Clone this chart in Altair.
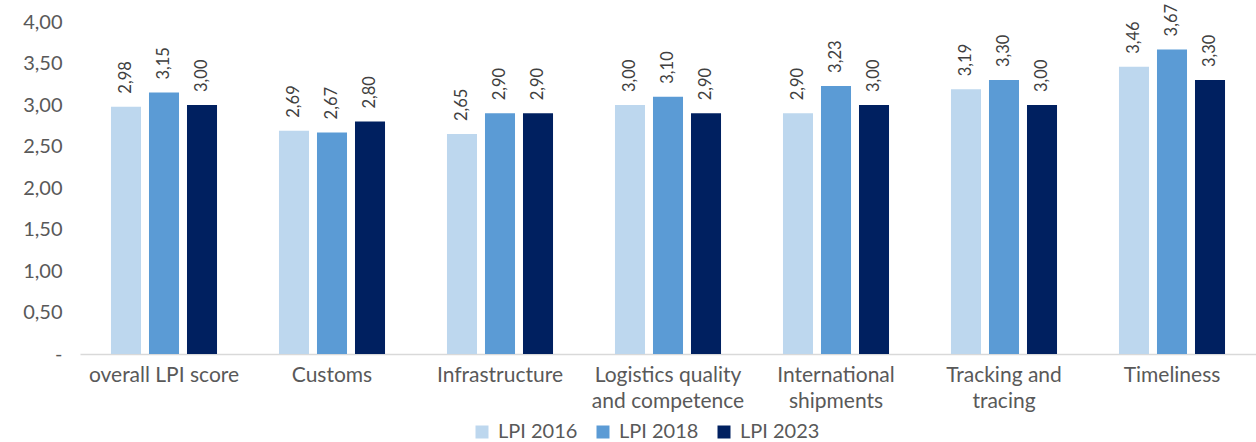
import altair as alt
import pandas as pd

categories = ["overall LPI score", "Customs", "Infrastructure",
              "Logistics quality\nand competence", "International\nshipments",
              "Tracking and\ntracing", "Timeliness"]
series = ["LPI 2016", "LPI 2018", "LPI 2023"]
lpi_2016 = [2.98, 2.69, 2.65, 3.00, 2.90, 3.19, 3.46]
lpi_2018 = [3.15, 2.67, 2.90, 3.10, 3.23, 3.30, 3.67]
lpi_2023 = [3.00, 2.80, 2.90, 2.90, 3.00, 3.00, 3.30]
colors = ["#BDD7EE", "#5B9BD5", "#002060"]

rows = []
for s, vals in zip(series, [lpi_2016, lpi_2018, lpi_2023]):
    for c, v in zip(categories, vals):
        rows.append({"category": c, "series": s, "value": v})
df = pd.DataFrame(rows)

FONT = "Lato"
GREY = "#595959"

x = alt.X("category:N", sort=categories, title=None,
          scale=alt.Scale(paddingInner=0, paddingOuter=0),
          axis=alt.Axis(labelAngle=0, labelFontSize=21, labelColor=GREY, labelFont=FONT,
                        labelPadding=10, ticks=False, domainColor="#D9D9D9", domainWidth=1.5,
                        labelExpr="split(datum.label, '\\n')", labelLineHeight=26,
                        labelBaseline="top"))
xo = alt.XOffset("series:N", sort=series,
                 scale=alt.Scale(paddingInner=0.21, paddingOuter=0.815))
y = alt.Y("value:Q", title=None,
          scale=alt.Scale(domain=[0, 4]),
          axis=alt.Axis(values=[0, 0.5, 1, 1.5, 2, 2.5, 3, 3.5, 4], grid=False, domain=False,
                        ticks=False, labelFontSize=20, labelColor=GREY, labelFont=FONT,
                        labelPadding=18,
                        labelExpr="datum.value == 0 ? '-' : replace(format(datum.value, '.2f'), '.', ',')"))
color = alt.Color("series:N", sort=series, title=None,
                  scale=alt.Scale(domain=series, range=colors),
                  legend=alt.Legend(orient="none", direction="horizontal", legendX=392, legendY=400,
                                    symbolType="square", symbolSize=169, symbolStrokeWidth=0,
                                    labelFontSize=20, labelColor=GREY, labelFont=FONT,
                                    columnPadding=15, labelOffset=6))

base = alt.Chart(df)
bars = base.mark_bar().encode(x=x, xOffset=xo, y=y, color=color)
text = base.transform_calculate(
    lbl="replace(format(datum.value, '.2f'), '.', ',')"
).mark_text(angle=270, align="left", baseline="middle", dx=13, fontSize=16.5,
            font=FONT, color="#404040").encode(
    x=alt.X("category:N", sort=categories), xOffset=xo, y="value:Q", text="lbl:N")

chart = alt.layer(bars, text).properties(
    width=1176, height=332,
    padding={"left": 80, "top": 22, "right": 0, "bottom": 88},
    autosize=alt.AutoSizeParams(type="none"),
).configure_view(stroke=None)

chart.save("out.html", embed_options={"renderer": "svg", "actions": False})
